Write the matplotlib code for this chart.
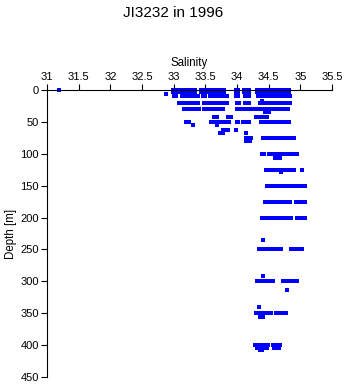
import numpy as np
import matplotlib
matplotlib.use("Agg")
import matplotlib.pyplot as plt

plt.rcParams['font.family'] = ['Liberation Sans', 'DejaVu Sans']

# salinity read per sampled depth (m)
sal_surf = [32.99, 33.03, 33.07, 33.11, 33.15, 33.19, 33.23, 33.27, 33.31, 33.34,
            33.43, 33.47, 33.51, 33.55, 33.59, 33.63, 33.67, 33.71, 33.75, 33.79,
            33.98, 34.02, 34.11, 34.15, 34.19,
            34.31, 34.35, 34.39, 34.43, 34.47, 34.51, 34.55, 34.59, 34.63, 34.67,
            34.71, 34.75, 34.79, 34.82]
sal_d10 = [33.0, 33.03, 33.13, 33.17, 33.21, 33.25, 33.3, 33.36, 33.38, 33.46, 33.5,
           33.57, 33.61, 33.65, 33.69, 33.73, 33.77, 33.81, 33.84, 33.98, 34.02,
           34.13, 34.16, 34.19, 34.33, 34.37, 34.41, 34.45, 34.49, 34.53, 34.57,
           34.61, 34.65, 34.69, 34.73, 34.77, 34.81, 34.84]
sal_d21 = [33.08, 33.12, 33.16, 33.2, 33.24, 33.28, 33.3, 33.35, 33.38, 33.47, 33.51,
           33.55, 33.59, 33.63, 33.67, 33.71, 33.75, 33.79, 33.84, 34.0, 34.03,
           34.13, 34.18, 34.36, 34.4, 34.44, 34.48, 34.52, 34.56, 34.6, 34.64,
           34.68, 34.72, 34.76, 34.8, 34.84]
sal_d30 = [33.16, 33.2, 33.24, 33.28, 33.32, 33.36, 33.4, 33.48, 33.52, 33.56, 33.6,
           33.64, 33.68, 33.72, 33.76, 33.78, 34.0, 34.04, 34.08, 34.13, 34.17,
           34.21, 34.25, 34.29, 34.33, 34.35, 34.39, 34.43, 34.47, 34.51, 34.55,
           34.59, 34.63, 34.67, 34.71, 34.75, 34.8]
sal_d35 = [34.44, 34.47, 34.5]
sal_d42 = [33.64, 33.69, 33.85, 33.9, 34.3, 34.34, 34.38, 34.42, 34.47]
sal_d50 = [33.2, 33.24, 33.59, 33.63, 33.68, 33.72, 33.76, 33.8, 33.84, 33.87,
           34.0, 34.02, 34.09, 34.13, 34.16, 34.19, 34.37, 34.41, 34.45, 34.49,
           34.53, 34.57, 34.61, 34.65, 34.69, 34.73, 34.77, 34.82]
sal_d55 = [33.3, 33.69]
sal_d63 = [33.78, 33.82, 33.85, 33.98]
sal_d67 = [33.73, 33.77, 34.14]
sal_d75 = [34.14, 34.18, 34.22, 34.41, 34.45, 34.49, 34.53, 34.57, 34.61, 34.65,
           34.69, 34.73, 34.77, 34.81, 34.85, 34.9]
sal_d80 = [34.2, 34.14]
sal_d100 = [34.39, 34.42, 34.5, 34.56, 34.6, 34.64, 34.68, 34.72, 34.76, 34.8,
            34.85, 34.91, 34.94]
sal_d106 = [34.6, 34.64, 34.68]
sal_d125 = [34.45, 34.49, 34.53, 34.57, 34.61, 34.65, 34.69, 34.73, 34.77, 34.8,
            34.84, 34.88, 34.9, 35.02]
sal_d129 = [34.69]
sal_d150 = [34.47, 34.51, 34.55, 34.59, 34.63, 34.67, 34.71, 34.75, 34.79, 34.83,
            34.87, 34.91, 34.95, 35.01, 35.04, 35.07]
sal_d175 = [34.44, 34.48, 34.52, 34.56, 34.6, 34.64, 34.68, 34.72, 34.76, 34.8,
            34.83, 34.93, 34.97, 35.01, 35.04, 35.07]
sal_d200 = [34.4, 34.44, 34.48, 34.52, 34.56, 34.6, 34.64, 34.68, 34.72, 34.76,
            34.8, 34.85, 34.95, 35.0, 35.04, 35.07]
sal_d235 = [34.41]
sal_d250 = [34.35, 34.39, 34.43, 34.47, 34.51, 34.55, 34.59, 34.63, 34.67, 34.7,
            34.85, 34.89, 34.93, 34.97, 35.01, 35.03]
sal_d291 = [34.41]
sal_d300 = [34.32, 34.36, 34.4, 34.44, 34.48, 34.52, 34.56, 34.73, 34.77, 34.81,
            34.85, 34.89, 34.94]
sal_d313 = [34.79]
sal_d340 = [34.34]
sal_d350 = [34.3, 34.34, 34.38, 34.42, 34.46, 34.5, 34.53, 34.62, 34.66, 34.69,
            34.72, 34.77]
sal_d356 = [34.36, 34.39, 34.41]
sal_d400 = [34.28, 34.32, 34.36, 34.4, 34.44, 34.48, 34.56, 34.6, 34.64, 34.68]
sal_d404 = [34.32, 34.36, 34.4, 34.44, 34.47, 34.58, 34.62, 34.66]

levels = [(0, [31.19] + sal_surf), (2, sal_surf), (4, sal_surf), (6, [32.87]),
          (10, sal_d10), (17, [34.39]), (21, sal_d21), (30, sal_d30),
          (35, sal_d35), (42, sal_d42), (50, sal_d50), (55, sal_d55),
          (63, sal_d63), (67, sal_d67), (75, sal_d75), (80, sal_d80),
          (100, sal_d100), (106, sal_d106), (125, sal_d125), (129, sal_d129),
          (150, sal_d150), (175, sal_d175), (200, sal_d200), (235, sal_d235),
          (250, sal_d250), (291, sal_d291), (300, sal_d300), (313, sal_d313),
          (340, sal_d340), (350, sal_d350), (356, sal_d356), (400, sal_d400),
          (404, sal_d404), (407, [34.36, 34.4])]

sal = np.concatenate([s for d, s in levels])
depth = np.concatenate([[d] * len(s) for d, s in levels])

fig = plt.figure(figsize=(3.46, 3.84), dpi=100)
ax = fig.add_axes([0.136, 0.018, 0.824, 0.748])
ax.plot(sal, depth, 's', color='#0000ff', markersize=2.2, markeredgewidth=0,
        antialiased=False, clip_on=False)

ax.set_xlim(31, 35.5)
ax.set_ylim(450, 0)
ax.xaxis.tick_top()
ax.xaxis.set_label_position('top')
ax.set_xticks([31, 31.5, 32, 32.5, 33, 33.5, 34, 34.5, 35, 35.5])
ax.set_xticklabels(['31', '31.5', '32', '32.5', '33', '33.5', '34', '34.5', '35', '35.5'])
ax.set_yticks(np.arange(0, 451, 50))
ax.spines['right'].set_visible(False)
ax.spines['bottom'].set_visible(False)
ax.tick_params(direction='out', length=4, width=0.8, labelsize=8, pad=2)
ax.set_xlabel('Salinity', fontsize=8.3, labelpad=4)
ax.set_ylabel('Depth [m]', fontsize=8.3, labelpad=2)
fig.text(0.5, 0.965, 'JI3232 in 1996', ha='center', va='center', fontsize=11)

fig.savefig('out.png', dpi=100)
